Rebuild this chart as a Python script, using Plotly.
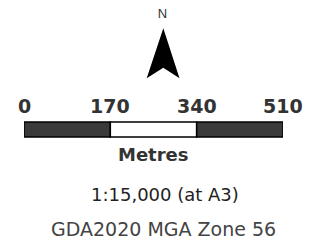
import plotly.graph_objects as go

W, H = 318, 249

# ---- data ----
scale_ticks = [0, 170, 340, 510]
scale_labels = ["0", "170", "340", "510"]
seg_starts = [0, 170, 340]
seg_lengths = [170, 170, 170]
seg_colors = ["#3a3a3a", "#ffffff", "#3a3a3a"]
unit_label = "Metres"
ratio_label = "1:15,000 (at A3)"
crs_label = "GDA2020 MGA Zone 56"
north_label = "N"

FONT = "DejaVu Sans, Arial, sans-serif"
TXT = "#333333"

fig = go.Figure()

# scale bar segments (metres axis)
fig.add_trace(go.Bar(
    x=seg_lengths, base=seg_starts, y=[129.5] * len(seg_starts),
    orientation="h", width=15,
    marker=dict(color=seg_colors, line=dict(color="black", width=1.5)),
    hoverinfo="skip", showlegend=False, xaxis="x", yaxis="y",
))

# north label (pixel axis)
fig.add_trace(go.Scatter(
    x=[162.5], y=[15], mode="text", text=[north_label],
    textfont=dict(family="Liberation Sans, Arial, sans-serif", size=13, color="#333"),
    hoverinfo="skip", showlegend=False, xaxis="x2", yaxis="y",
))

annotations = []
for v, lab in zip(scale_ticks, scale_labels):
    annotations.append(dict(
        x=v, y=105.5, xref="x", yref="y", text=lab,
        showarrow=False, xanchor="center", yanchor="middle",
        font=dict(family=FONT, size=19, color=TXT, weight="bold"),
    ))
annotations.append(dict(
    x=153, y=154.5, xref="x2", yref="y", text=unit_label,
    showarrow=False, xanchor="center", yanchor="middle",
    font=dict(family=FONT, size=18, color=TXT, weight="bold"),
))
annotations.append(dict(
    x=165, y=194, xref="x2", yref="y", text=ratio_label,
    showarrow=False, xanchor="center", yanchor="middle",
    font=dict(family=FONT, size=18, color="#222"),
))
annotations.append(dict(
    x=163, y=229, xref="x2", yref="y", text=crs_label,
    showarrow=False, xanchor="center", yanchor="middle",
    font=dict(family=FONT, size=19, color="#444"),
))

fig.update_layout(
    width=W, height=H,
    margin=dict(l=0, r=0, t=0, b=0),
    paper_bgcolor="white", plot_bgcolor="rgba(0,0,0,0)",
    barmode="overlay",
    xaxis=dict(domain=[24 / W, 283 / W], range=[0, 510], visible=False, fixedrange=True),
    xaxis2=dict(domain=[0, 1], range=[0, W], visible=False, anchor="y", fixedrange=True),
    yaxis=dict(domain=[0, 1], range=[H, 0], visible=False, fixedrange=True),
    annotations=annotations,
    shapes=[dict(
        type="path", xref="x2", yref="y",
        path="M163.3,28.3 L179.5,78.3 L163.3,67.7 L146.7,78.3 Z",
        fillcolor="black", line=dict(width=0),
    )],
)

fig.write_html("out.html", config={"displayModeBar": False},
               post_script="document.body.style.margin='0';")
